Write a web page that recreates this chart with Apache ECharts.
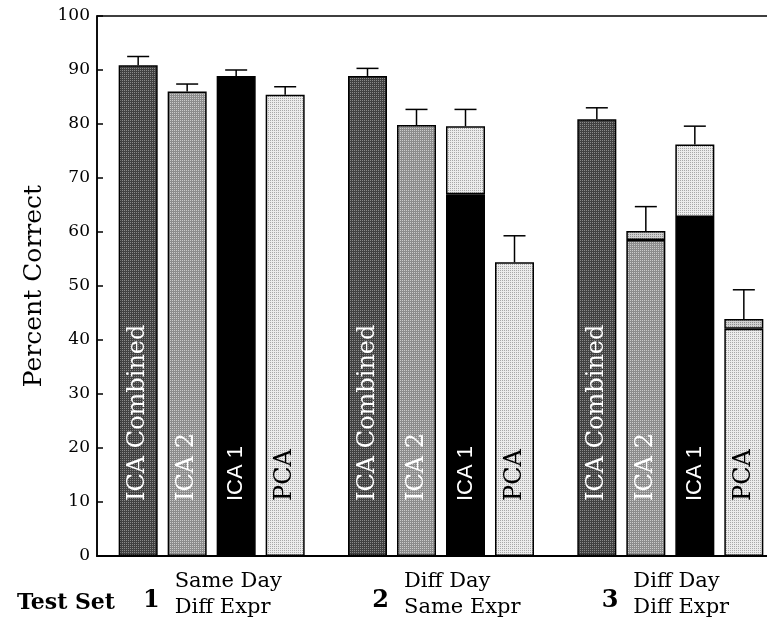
<!DOCTYPE html>
<html>
<head>
<meta charset="utf-8">
<script src="https://cdn.jsdelivr.net/npm/echarts@6/dist/echarts.min.js"></script>
<style>
  html, body { margin: 0; padding: 0; background: #fff; }
  #chart { width: 767px; height: 629px; }
</style>
</head>
<body>
<div id="chart"></div>
<script>
// Test sets along the x axis
const testSetNumbers = ['1', '2', '3'];
const testSetConditions = [
  ['Same Day', 'Diff Expr'],
  ['Diff Day', 'Same Expr'],
  ['Diff Day', 'Diff Expr']
];
const methodNames = ['ICA Combined', 'ICA 2', 'ICA 1', 'PCA'];

// Percent correct per test set (lower segment and full bar height)
const icaCombined = [90.9, 88.9, 80.9];
const ica2Lower = [86.0, 79.8, 58.5];
const ica2Total = [86.0, 79.8, 60.2];
const ica1Lower = [88.9, 67.0, 62.8];
const ica1Total = [88.9, 79.6, 76.2];
const pcaLower = [85.4, 54.4, 42.1];
const pcaTotal = [85.4, 54.4, 43.9];

// Top of each error bar
const icaCombinedErrTop = [92.5, 90.3, 83.0];
const ica2ErrTop = [87.4, 82.7, 64.7];
const ica1ErrTop = [90.0, 82.7, 79.6];
const pcaErrTop = [86.9, 59.3, 49.3];

const yTicks = { min: 0, max: 100, interval: 10 };

// Bar layout constants
const BAR_WIDTH = 39;
const BAR_GAP = 10;

const SERIF = '"DejaVu Serif", "Liberation Serif", serif';
const SANS = '"Liberation Sans", Arial, sans-serif';

// Halftone-like fill: 2x2 tile with one accent pixel
function halftone(base, dot) {
  const c = document.createElement('canvas');
  c.width = 2; c.height = 2;
  const g = c.getContext('2d');
  g.fillStyle = base; g.fillRect(0, 0, 2, 2);
  g.fillStyle = dot; g.fillRect(0, 0, 1, 1);
  return { image: c, repeat: 'repeat' };
}

const fillDark = halftone('#414141', '#8a8a8a');
const fillMid = halftone('#8c8c8c', '#cbcbcb');
const fillLight = halftone('#ececec', '#a8a8a8');
const fillUpper = halftone('#d0d0d0', '#8c8c8c');

function upperPart(total, lower) {
  return total.map((t, i) => {
    const d = Math.round((t - lower[i]) * 10) / 10;
    return d > 0 ? d : '-';
  });
}

const outline = { borderColor: '#000', borderWidth: 1.5 };

function barLabel(text, color, family) {
  return {
    show: true,
    position: 'insideBottom',
    distance: 55,
    rotate: 90,
    align: 'left',
    verticalAlign: 'middle',
    formatter: text,
    color: color,
    fontFamily: family,
    fontSize: family === SANS ? 22 : 24
  };
}

function barSeries(name, stack, data, fill, label) {
  return {
    type: 'bar',
    name: name,
    stack: stack,
    data: data,
    barWidth: BAR_WIDTH,
    barGap: (BAR_GAP / BAR_WIDTH * 100) + '%',
    itemStyle: Object.assign({ color: fill }, outline),
    label: label || { show: false },
    emphasis: { disabled: true },
    z: 2
  };
}

// Error bar rows: [test set index, bar top, error top, slot in group]
const errorRows = [];
[
  [icaCombined, icaCombinedErrTop],
  [ica2Total, ica2ErrTop],
  [ica1Total, ica1ErrTop],
  [pcaTotal, pcaErrTop]
].forEach(([tops, errs], slot) => {
  tops.forEach((v, i) => errorRows.push([i, v, errs[i], slot]));
});

const chart = echarts.init(document.getElementById('chart'), null, { renderer: 'canvas' });

chart.setOption({
  animation: false,
  backgroundColor: '#fff',
  grid: {
    left: 97, top: 16, width: 688, bottom: 73,
    outerBoundsMode: 'none',
    containLabel: false,
    show: true, borderColor: '#000', borderWidth: 1.5, backgroundColor: 'transparent'
  },
  xAxis: [
    {
      type: 'category',
      data: testSetNumbers,
      position: 'bottom',
      axisLine: { show: true, lineStyle: { color: '#000', width: 2 } },
      axisTick: { show: false },
      axisLabel: {
        color: '#000', fontFamily: SERIF, fontWeight: 'bold', fontSize: 24,
        align: 'right', padding: [0, 52, 0, 0], margin: 33
      },
      name: 'Test Set',
      nameLocation: 'start',
      nameGap: -18,
      nameTextStyle: {
        color: '#000', fontFamily: SERIF, fontWeight: 'bold', fontSize: 22,
        align: 'right', verticalAlign: 'top', padding: [36, 0, 0, 0]
      }
    },
    {
      type: 'category',
      data: testSetConditions.map(c => c.join('\n')),
      position: 'bottom',
      axisLine: { show: false },
      axisTick: { show: false },
      axisLabel: {
        margin: 13,
        align: 'center',
        padding: [0, 0, 0, 66],
        formatter: v => v.split('\n').map(s => '{t|' + s + '}').join('\n'),
        rich: {
          t: { width: 140, align: 'left', color: '#000', fontFamily: SERIF, fontSize: 21, lineHeight: 26 }
        }
      }
    }
  ],
  yAxis: {
    type: 'value',
    min: yTicks.min, max: yTicks.max, interval: yTicks.interval,
    axisLine: { show: true, lineStyle: { color: '#000', width: 1.5 } },
    axisTick: { show: true, inside: true, length: 6, lineStyle: { color: '#000', width: 1.5 } },
    splitLine: { show: false },
    axisLabel: { color: '#000', fontFamily: SERIF, fontSize: 17, margin: 7 },
    name: 'Percent Correct',
    nameLocation: 'middle',
    nameGap: 35,
    nameTextStyle: { color: '#000', fontFamily: SERIF, fontSize: 25 }
  },
  series: [
    barSeries(methodNames[0], 'comb', icaCombined, fillDark, barLabel(methodNames[0], '#fff', SERIF)),
    barSeries(methodNames[1], 'ica2', ica2Lower, fillMid, barLabel(methodNames[1], '#fff', SERIF)),
    barSeries(methodNames[1] + ' upper', 'ica2', upperPart(ica2Total, ica2Lower), fillUpper),
    barSeries(methodNames[2], 'ica1', ica1Lower, '#000', barLabel(methodNames[2], '#fff', SANS)),
    barSeries(methodNames[2] + ' upper', 'ica1', upperPart(ica1Total, ica1Lower), fillLight),
    barSeries(methodNames[3], 'pca', pcaLower, fillLight, barLabel(methodNames[3], '#000', SERIF)),
    barSeries(methodNames[3] + ' upper', 'pca', upperPart(pcaTotal, pcaLower), fillUpper),
    {
      type: 'custom',
      name: 'error',
      data: errorRows,
      encode: { x: 0, y: [1, 2] },
      clip: false,
      z: 3,
      renderItem: function (params, api) {
        const slot = api.value(3);
        const base = api.coord([api.value(0), api.value(1)]);
        const top = api.coord([api.value(0), api.value(2)]);
        const x = base[0] + (slot - 1.5) * (BAR_WIDTH + BAR_GAP);
        const st = { stroke: '#000', lineWidth: 1.5 };
        return {
          type: 'group',
          children: [
            { type: 'line', shape: { x1: x, y1: base[1], x2: x, y2: top[1] }, style: st },
            { type: 'line', shape: { x1: x - 11, y1: top[1], x2: x + 11, y2: top[1] }, style: st }
          ]
        };
      }
    }
  ]
});
</script>
</body>
</html>
